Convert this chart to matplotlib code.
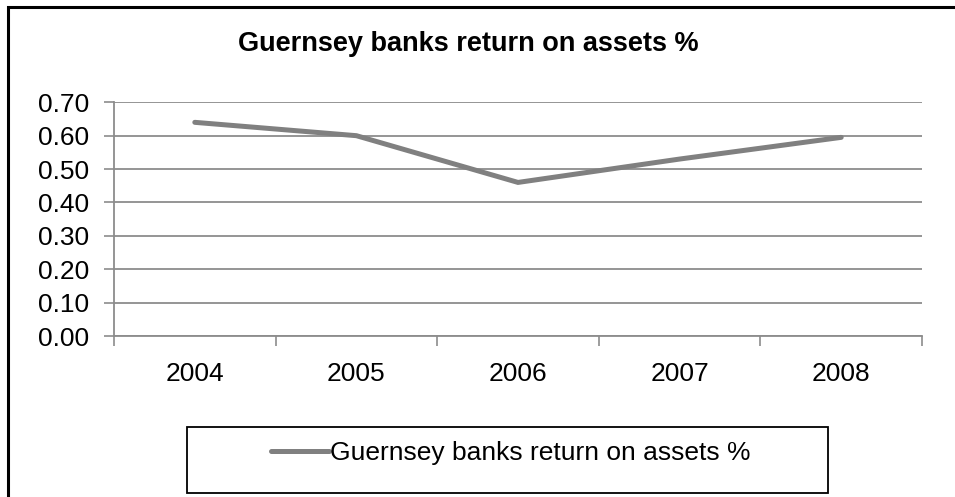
import matplotlib.pyplot as plt
from matplotlib.patches import Rectangle
import numpy as np

plt.rcParams['font.family'] = ['Liberation Sans', 'DejaVu Sans']

years = ["2004", "2005", "2006", "2007", "2008"]
roa = [0.64, 0.60, 0.46, 0.53, 0.595]
series_name = "Guernsey banks return on assets %"
y_ticks = [0.0, 0.1, 0.2, 0.3, 0.4, 0.5, 0.6, 0.7]

W, H = 955, 497
fig = plt.figure(figsize=(W / 100, H / 100), dpi=100)
ax = fig.add_axes([114 / W, 1 - 336 / H, (922 - 114) / W, (336 - 102.3) / H])

x = np.arange(len(years))
line, = ax.plot(x, roa, color="#808080", lw=3.6, solid_capstyle="round",
                solid_joinstyle="miter", label=series_name, zorder=3)

ax.set_xlim(-0.5, len(years) - 0.5)
ax.set_ylim(0, 0.7)
ax.set_yticks(y_ticks)
ax.set_yticklabels([f"{v:.2f}" for v in y_ticks])
ax.yaxis.grid(True, color="#8c8c8c", lw=1.3)
ax.set_axisbelow(True)

# category labels centred, tick marks on the boundaries
ax.set_xticks(x)
ax.set_xticklabels(years)
ax.set_xticks(np.arange(len(years) + 1) - 0.5, minor=True)
ax.tick_params(axis="x", which="major", length=0, pad=19, labelsize=19)
ax.tick_params(axis="x", which="minor", length=7, width=1.2, color="#8c8c8c")
ax.tick_params(axis="y", length=7, width=1.2, color="#8c8c8c", labelsize=19, pad=11)

for s in ["top", "right"]:
    ax.spines[s].set_visible(False)
for s in ["left", "bottom"]:
    ax.spines[s].set_color("#8c8c8c")
    ax.spines[s].set_linewidth(1.3)

fig.text(468 / W, 1 - 44 / H, series_name, ha="center", va="center",
         fontsize=19.5, fontweight="bold")

# chart border
fig.patches.append(Rectangle((8 / W, -0.1), 1.1, 1 - 7 / H + 0.1, transform=fig.transFigure,
                             fill=False, edgecolor="black", lw=2.2))

# legend box
lx0, lx1, ly0, ly1 = 187, 828, 427, 493
fig.patches.append(Rectangle((lx0 / W, 1 - ly1 / H), (lx1 - lx0) / W, (ly1 - ly0) / H,
                             transform=fig.transFigure, fill=False, edgecolor="black", lw=1.3))
fig.legend(handles=[line], loc="center", frameon=False, fontsize=19,
           bbox_to_anchor=(511 / W, 1 - 453 / H),
           handlelength=2.2, handletextpad=0.05, borderpad=0, borderaxespad=0)

fig.savefig("out.png", dpi=100)
